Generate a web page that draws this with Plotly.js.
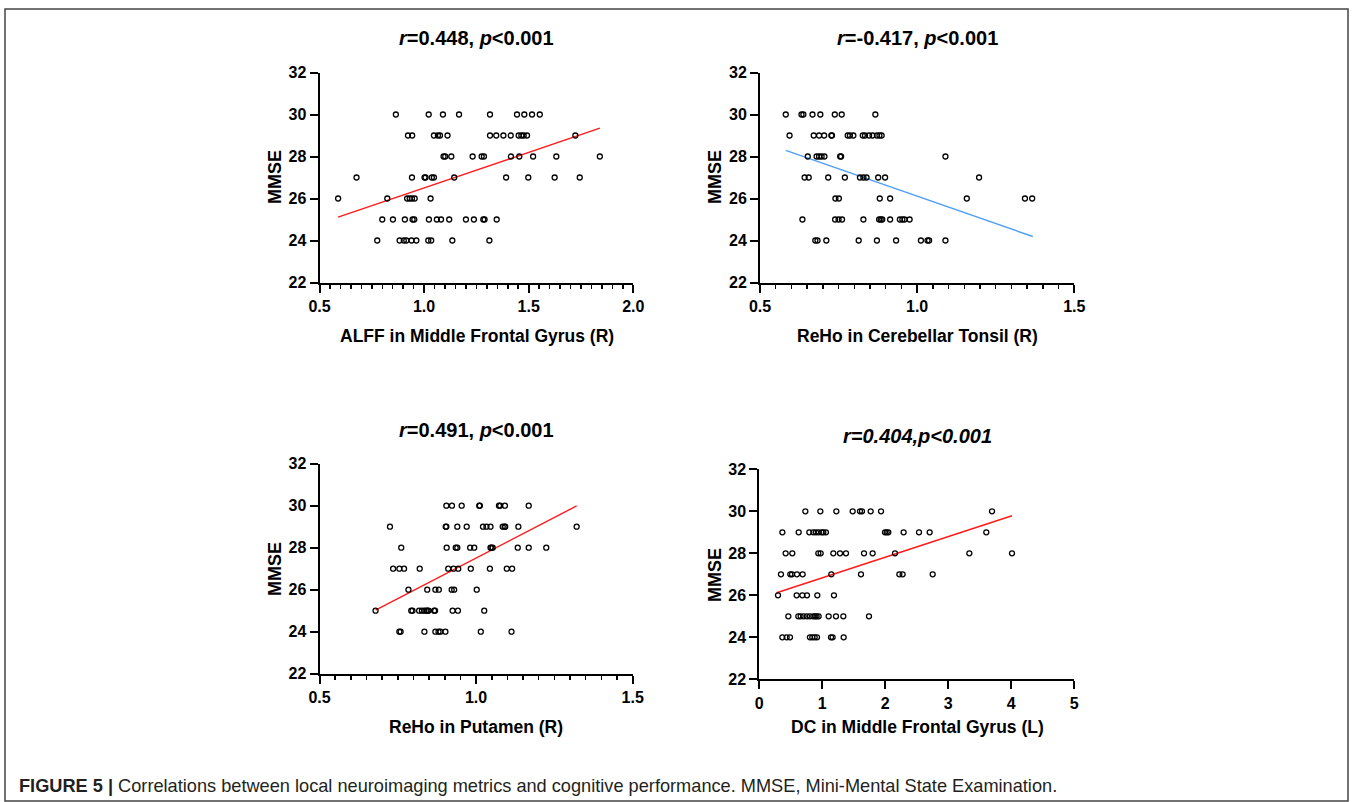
<!DOCTYPE html>
<html>
<head>
<meta charset="utf-8">
<script src="https://cdn.plot.ly/plotly-3.0.1.min.js"></script>
<style>
html,body{margin:0;padding:0;background:#fff;}
#chart{width:1354px;height:802px;}
</style>
</head>
<body>
<div id="chart"></div>
<script>
// ---------- Data ----------
// Panel A: ALFF in Middle Frontal Gyrus (R) vs MMSE
const alffX = [
  0.865,1.022,1.090,1.167,1.315,1.444,1.479,1.516,1.553,
  0.923,0.943,1.047,1.066,1.076,1.112,1.315,1.345,1.379,1.414,1.452,1.465,1.476,1.492,1.723,
  1.093,1.101,1.130,1.232,1.275,1.286,1.415,1.455,1.521,1.632,1.840,
  0.677,0.942,1.002,1.007,1.037,1.047,1.144,1.392,1.498,1.624,1.744,
  0.589,0.824,0.919,0.931,0.942,0.955,1.031,
  0.800,0.851,0.908,0.945,0.953,1.023,1.061,1.081,1.120,1.200,1.238,1.283,1.289,1.347,
  0.776,0.883,0.903,0.915,0.940,0.963,1.020,1.034,1.135,1.312
];
const alffMMSE = [
  30,30,30,30,30,30,30,30,30,
  29,29,29,29,29,29,29,29,29,29,29,29,29,29,29,
  28,28,28,28,28,28,28,28,28,28,28,
  27,27,27,27,27,27,27,27,27,27,27,
  26,26,26,26,26,26,26,
  25,25,25,25,25,25,25,25,25,25,25,25,25,25,
  24,24,24,24,24,24,24,24,24,24
];
const alffFitX = [0.589, 1.840];
const alffFitY = [25.11, 29.35];

// Panel B: ReHo in Cerebellar Tonsil (R) vs MMSE
const rehoCtX = [
  0.582,0.632,0.638,0.667,0.692,0.738,0.760,0.867,
  0.594,0.671,0.688,0.704,0.727,0.729,0.779,0.786,0.797,0.827,0.834,0.847,0.858,0.872,0.880,0.887,
  0.652,0.680,0.688,0.696,0.705,0.755,0.758,1.090,
  0.642,0.655,0.717,0.770,0.818,0.829,0.839,0.876,0.898,1.197,
  0.740,0.751,0.881,0.914,1.158,1.343,1.366,
  0.635,0.739,0.750,0.761,0.829,0.879,0.884,0.889,0.914,0.945,0.953,0.960,0.976,
  0.676,0.683,0.711,0.814,0.872,0.933,1.012,1.033,1.038,1.090
];
const rehoCtMMSE = [
  30,30,30,30,30,30,30,30,
  29,29,29,29,29,29,29,29,29,29,29,29,29,29,29,29,
  28,28,28,28,28,28,28,28,
  27,27,27,27,27,27,27,27,27,27,
  26,26,26,26,26,26,26,
  25,25,25,25,25,25,25,25,25,25,25,25,25,
  24,24,24,24,24,24,24,24,24,24
];
const rehoCtFitX = [0.582, 1.368];
const rehoCtFitY = [28.29, 24.19];

// Panel C: ReHo in Putamen (R) vs MMSE
const rehoPuX = [
  0.905,0.923,0.954,1.010,1.012,1.073,1.077,1.092,1.168,
  0.725,0.903,0.905,0.940,0.970,1.022,1.033,1.046,1.085,1.091,1.093,1.135,1.321,
  0.761,0.906,0.935,0.940,0.981,0.994,1.046,1.049,1.053,1.133,1.168,1.224,
  0.735,0.755,0.770,0.820,0.911,0.928,0.943,0.983,1.044,1.098,1.115,
  0.784,0.844,0.870,0.881,0.922,0.930,1.002,
  0.679,0.793,0.797,0.818,0.827,0.835,0.841,0.845,0.848,0.866,0.869,0.925,0.942,1.026,
  0.755,0.759,0.835,0.870,0.880,0.886,0.902,1.015,1.113
];
const rehoPuMMSE = [
  30,30,30,30,30,30,30,30,30,
  29,29,29,29,29,29,29,29,29,29,29,29,29,
  28,28,28,28,28,28,28,28,28,28,28,28,
  27,27,27,27,27,27,27,27,27,27,27,
  26,26,26,26,26,26,26,
  25,25,25,25,25,25,25,25,25,25,25,25,25,25,
  24,24,24,24,24,24,24,24,24
];
const rehoPuFitX = [0.679, 1.321];
const rehoPuFitY = [25.03, 29.99];

// Panel D: DC in Middle Frontal Gyrus (L) vs MMSE
const dcX = [
  0.731,0.969,1.223,1.482,1.598,1.630,1.768,1.932,3.694,
  0.366,0.625,0.794,0.857,0.900,0.942,0.990,1.016,1.058,1.995,2.022,2.048,2.291,2.535,2.704,3.603,
  0.418,0.524,0.937,0.974,1.175,1.281,1.376,1.662,1.799,2.154,3.334,4.011,
  0.344,0.492,0.519,0.598,0.688,1.143,1.614,2.223,2.275,2.752,
  0.297,0.593,0.683,0.757,0.921,1.185,
  0.461,0.619,0.656,0.704,0.757,0.804,0.857,0.889,0.910,0.942,1.101,1.217,1.334,1.741,
  0.366,0.434,0.487,0.804,0.841,0.879,0.916,1.138,1.164,1.339
];
const dcMMSE = [
  30,30,30,30,30,30,30,30,30,
  29,29,29,29,29,29,29,29,29,29,29,29,29,29,29,29,
  28,28,28,28,28,28,28,28,28,28,28,28,
  27,27,27,27,27,27,27,27,27,27,
  26,26,26,26,26,26,
  25,25,25,25,25,25,25,25,25,25,25,25,25,25,
  24,24,24,24,24,24,24,24,24,24
];
const dcFitX = [0.276, 4.011];
const dcFitY = [26.12, 29.79];

const panelTitles = [
  '<b><i>r</i>=0.448, <i>p</i>&lt;0.001</b>',
  '<b><i>r</i>=-0.417, <i>p</i>&lt;0.001</b>',
  '<b><i>r</i>=0.491, <i>p</i>&lt;0.001</b>',
  '<b><i>r=0.404,p&lt;0.001</i></b>'
];
const xTitles = [
  'ALFF in Middle Frontal Gyrus (R)',
  'ReHo in Cerebellar Tonsil (R)',
  'ReHo in Putamen (R)',
  'DC in Middle Frontal Gyrus (L)'
];
const yTitle = 'MMSE';
const caption = '<b>FIGURE 5 |</b> Correlations between local neuroimaging metrics and cognitive performance. MMSE, Mini-Mental State Examination.';

// ---------- Layout helpers ----------
const W = 1354, H = 802;
const px = v => v / W;
const py = v => 1 - v / H;
const FONT = 'Liberation Sans, Arial, Helvetica, sans-serif';

function scatter(x, y, xa, ya) {
  return {x: x, y: y, xaxis: xa, yaxis: ya, type: 'scatter', mode: 'markers',
    marker: {symbol: 'circle-open', size: 5, color: '#000', line: {width: 1.3, color: '#000'}},
    cliponaxis: false, showlegend: false, hoverinfo: 'x+y'};
}
function fit(x, y, xa, ya, color) {
  return {x: x, y: y, xaxis: xa, yaxis: ya, type: 'scatter', mode: 'lines',
    line: {color: color, width: 1.4}, showlegend: false, hoverinfo: 'skip'};
}

const data = [
  fit(alffFitX, alffFitY, 'x', 'y', '#ff1a1a'),
  scatter(alffX, alffMMSE, 'x', 'y'),
  fit(rehoCtFitX, rehoCtFitY, 'x2', 'y2', '#4f9ef5'),
  scatter(rehoCtX, rehoCtMMSE, 'x2', 'y2'),
  fit(rehoPuFitX, rehoPuFitY, 'x3', 'y3', '#ff1a1a'),
  scatter(rehoPuX, rehoPuMMSE, 'x3', 'y3'),
  fit(dcFitX, dcFitY, 'x4', 'y4', '#ff1a1a'),
  scatter(dcX, dcMMSE, 'x4', 'y4')
];

const tickFont = {family: FONT, size: 16, color: '#000', weight: 'bold'};
function xAxis(domain, range, dtick, fmt, minorDtick, anchor) {
  const a = {domain: domain, range: range, dtick: dtick, tick0: range[0], tickformat: fmt,
    showgrid: false, zeroline: false, showline: true, linewidth: 2, linecolor: '#000',
    ticks: 'outside', ticklen: 8, tickwidth: 2, tickcolor: '#000', tickfont: tickFont,
    anchor: anchor, fixedrange: true};
  if (minorDtick) a.minor = {dtick: minorDtick, ticks: 'outside', ticklen: 4, tickwidth: 1.5, tickcolor: '#000', showgrid: false};
  return a;
}
function yAxis(domain, anchor) {
  return {domain: domain, range: [22, 32], dtick: 2, tick0: 22,
    showgrid: false, zeroline: false, showline: true, linewidth: 2, linecolor: '#000',
    ticks: 'outside', ticklen: 8, tickwidth: 2, tickcolor: '#000', tickfont: tickFont,
    anchor: anchor, fixedrange: true};
}

const layout = {
  width: W, height: H,
  margin: {l: 0, r: 0, t: 0, b: 0},
  paper_bgcolor: '#fff', plot_bgcolor: 'rgba(0,0,0,0)',
  font: {family: FONT, color: '#000'},
  showlegend: false,
  xaxis:  xAxis([px(319.5), px(633.3)], [0.5, 2.0], 0.5, '.1f', 0.05, 'y'),
  yaxis:  yAxis([py(282.5), py(72.5)], 'x'),
  xaxis2: xAxis([px(760), px(1074.3)], [0.5, 1.5], 0.5, '.1f', 0.05, 'y2'),
  yaxis2: yAxis([py(282.5), py(72.5)], 'x2'),
  xaxis3: xAxis([px(319.5), px(632.7)], [0.5, 1.5], 0.5, '.1f', 0.05, 'y3'),
  yaxis3: yAxis([py(673.7), py(463.7)], 'x3'),
  xaxis4: xAxis([px(759.3), px(1074.3)], [0, 5], 1, 'd', null, 'y4'),
  yaxis4: yAxis([py(679.3), py(469.3)], 'x4'),
  shapes: [{type: 'rect', xref: 'paper', yref: 'paper',
    x0: px(5), x1: px(1348), y0: py(801), y1: py(9),
    line: {color: '#444', width: 1.5}, fillcolor: 'rgba(0,0,0,0)', layer: 'below'}],
  annotations: []
};

const titlePos = [[476.5, 38], [917, 38], [476, 430], [917, 436]];
const xTitlePos = [[476.5, 336], [917, 336], [476, 727], [917, 727]];
const yTitlePos = [[275, 177], [715, 177], [275, 569], [715, 575]];
for (let i = 0; i < 4; i++) {
  layout.annotations.push({text: panelTitles[i], xref: 'paper', yref: 'paper',
    x: px(titlePos[i][0]), y: py(titlePos[i][1]), xanchor: 'center', yanchor: 'middle',
    showarrow: false, font: {family: FONT, size: 20, color: '#000'}});
  layout.annotations.push({text: '<b>' + xTitles[i] + '</b>', xref: 'paper', yref: 'paper',
    x: px(xTitlePos[i][0]), y: py(xTitlePos[i][1]), xanchor: 'center', yanchor: 'middle',
    showarrow: false, font: {family: FONT, size: 17.5, color: '#000'}});
  layout.annotations.push({text: '<b>' + yTitle + '</b>', xref: 'paper', yref: 'paper',
    x: px(yTitlePos[i][0]), y: py(yTitlePos[i][1]), xanchor: 'center', yanchor: 'middle',
    textangle: -90, showarrow: false, font: {family: FONT, size: 18, color: '#000'}});
}
layout.annotations.push({text: caption, xref: 'paper', yref: 'paper',
  x: px(17), y: py(786), xanchor: 'left', yanchor: 'middle', showarrow: false,
  font: {family: 'Liberation Sans Narrow, Arial Narrow, Liberation Sans, sans-serif', size: 18.2, color: '#231f20'}});

Plotly.newPlot('chart', data, layout, {displayModeBar: false, staticPlot: true});
</script>
</body>
</html>
